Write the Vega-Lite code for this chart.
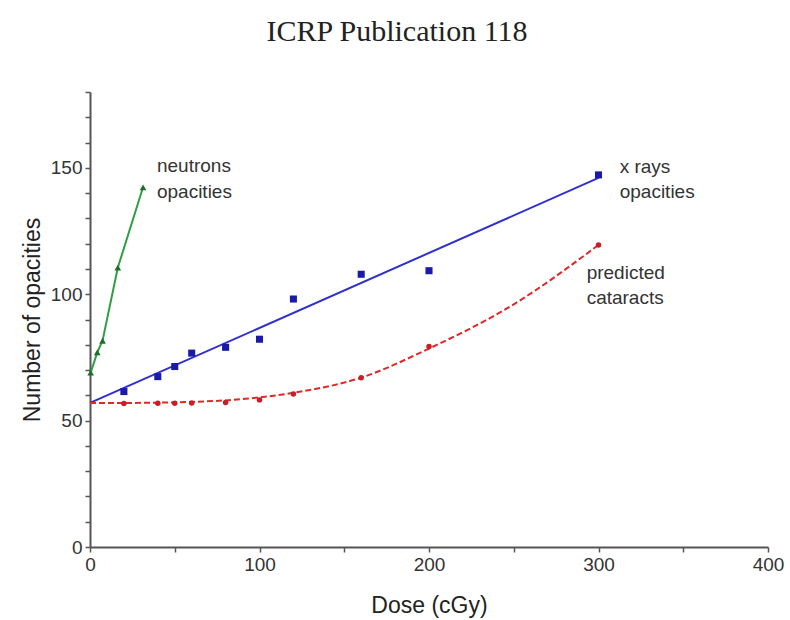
{
  "$schema": "https://vega.github.io/schema/vega-lite/v6.json",
  "autosize": "none",
  "width": 678,
  "height": 455,
  "padding": {"left": 90, "top": 92, "right": 22, "bottom": 73},
  "background": "white",
  "title": {"text": "ICRP Publication 118", "font": "Liberation Serif", "fontSize": 30, "fontWeight": "normal", "color": "#222222", "offset": 44, "dx": -32, "anchor": "middle"},
  "datasets": {
    "neutrons": [
      {"dose": 0.4, "n": 69},
      {"dose": 4.3, "n": 77},
      {"dose": 7.4, "n": 81.6},
      {"dose": 16.4, "n": 110.5},
      {"dose": 31.3, "n": 142.3}
    ],
    "xray": [
      {"dose": 20, "n": 61.5},
      {"dose": 40, "n": 67.4},
      {"dose": 50, "n": 71.4},
      {"dose": 60, "n": 76.7},
      {"dose": 80, "n": 79},
      {"dose": 100, "n": 82.2},
      {"dose": 120, "n": 98.1},
      {"dose": 160, "n": 107.9},
      {"dose": 200, "n": 109.3},
      {"dose": 300, "n": 147.2}
    ],
    "xfit": [
      {"dose": 0, "n": 57},
      {"dose": 300, "n": 146}
    ],
    "cataract": [
      {"dose": 20, "n": 56.8},
      {"dose": 40, "n": 56.9},
      {"dose": 50, "n": 56.9},
      {"dose": 60, "n": 57},
      {"dose": 80, "n": 57.2},
      {"dose": 100, "n": 58.2},
      {"dose": 120, "n": 60.5},
      {"dose": 160, "n": 67},
      {"dose": 200, "n": 79.3},
      {"dose": 300, "n": 119.5}
    ],
    "cfit": [
      {"dose": 0, "n": 57},
      {"dose": 20, "n": 57},
      {"dose": 40, "n": 57.1},
      {"dose": 60, "n": 57.4},
      {"dose": 80, "n": 58},
      {"dose": 100, "n": 59.2},
      {"dose": 120, "n": 61},
      {"dose": 160, "n": 67},
      {"dose": 200, "n": 78.5},
      {"dose": 250, "n": 96},
      {"dose": 300, "n": 119.5}
    ],
    "labels": [
      {"dose": 39.5, "n": 150.6, "text": "neutrons"},
      {"dose": 39.5, "n": 140.6, "text": "opacities"},
      {"dose": 312.5, "n": 150.3, "text": "x rays"},
      {"dose": 312.5, "n": 140.3, "text": "opacities"},
      {"dose": 293, "n": 108.5, "text": "predicted"},
      {"dose": 293, "n": 98.5, "text": "cataracts"}
    ]
  },
  "config": {
    "view": {"stroke": null},
    "axis": {
      "grid": false,
      "domainColor": "#555555",
      "domainWidth": 2,
      "tickColor": "#555555",
      "tickWidth": 1.5,
      "tickSize": 5,
      "labelFont": "Liberation Sans",
      "labelFontSize": 19,
      "labelColor": "#333333",
      "titleFont": "Liberation Sans",
      "titleFontSize": 23,
      "titleFontWeight": "normal",
      "titleColor": "#222222"
    }
  },
  "encoding": {
    "x": {"field": "dose", "type": "quantitative", "scale": {"domain": [0, 400], "nice": false, "zero": true},
      "axis": {"title": "Dose (cGy)", "values": [0, 50, 100, 150, 200, 250, 300, 350, 400], "labelExpr": "datum.value % 100 == 0 ? datum.label : ''", "labelPadding": 3, "titlePadding": 20, "labelFlush": false}},
    "y": {"field": "n", "type": "quantitative", "scale": {"domain": [0, 180], "nice": false},
      "axis": {"title": "Number of opacities", "values": [0, 10, 20, 30, 40, 50, 60, 70, 80, 90, 100, 110, 120, 130, 140, 150, 160, 170, 180], "labelExpr": "datum.value % 50 == 0 ? datum.label : ''", "labelPadding": 3, "titlePadding": 6}}
  },
  "layer": [
    {"data": {"name": "neutrons"}, "mark": {"type": "line", "color": "#2f9e44", "strokeWidth": 2}},
    {"data": {"name": "neutrons"}, "mark": {"type": "point", "shape": "triangle-up", "filled": true, "size": 45, "color": "#1f6e2c", "opacity": 1}},
    {"data": {"name": "xfit"}, "mark": {"type": "line", "color": "#2f2fd0", "strokeWidth": 2}},
    {"data": {"name": "xray"}, "mark": {"type": "point", "shape": "square", "filled": true, "size": 50, "color": "#1a1aa8", "opacity": 1}},
    {"data": {"name": "cfit"}, "mark": {"type": "line", "color": "#e02828", "strokeWidth": 2, "strokeDash": [6, 3], "interpolate": "monotone"}},
    {"data": {"name": "cataract"}, "mark": {"type": "point", "shape": "circle", "filled": true, "size": 30, "color": "#c81e2a", "opacity": 1}},
    {"data": {"name": "labels"}, "mark": {"type": "text", "align": "left", "baseline": "middle", "font": "Liberation Sans", "fontSize": 19, "color": "#333333"}, "encoding": {"text": {"field": "text"}}}
  ]
}
